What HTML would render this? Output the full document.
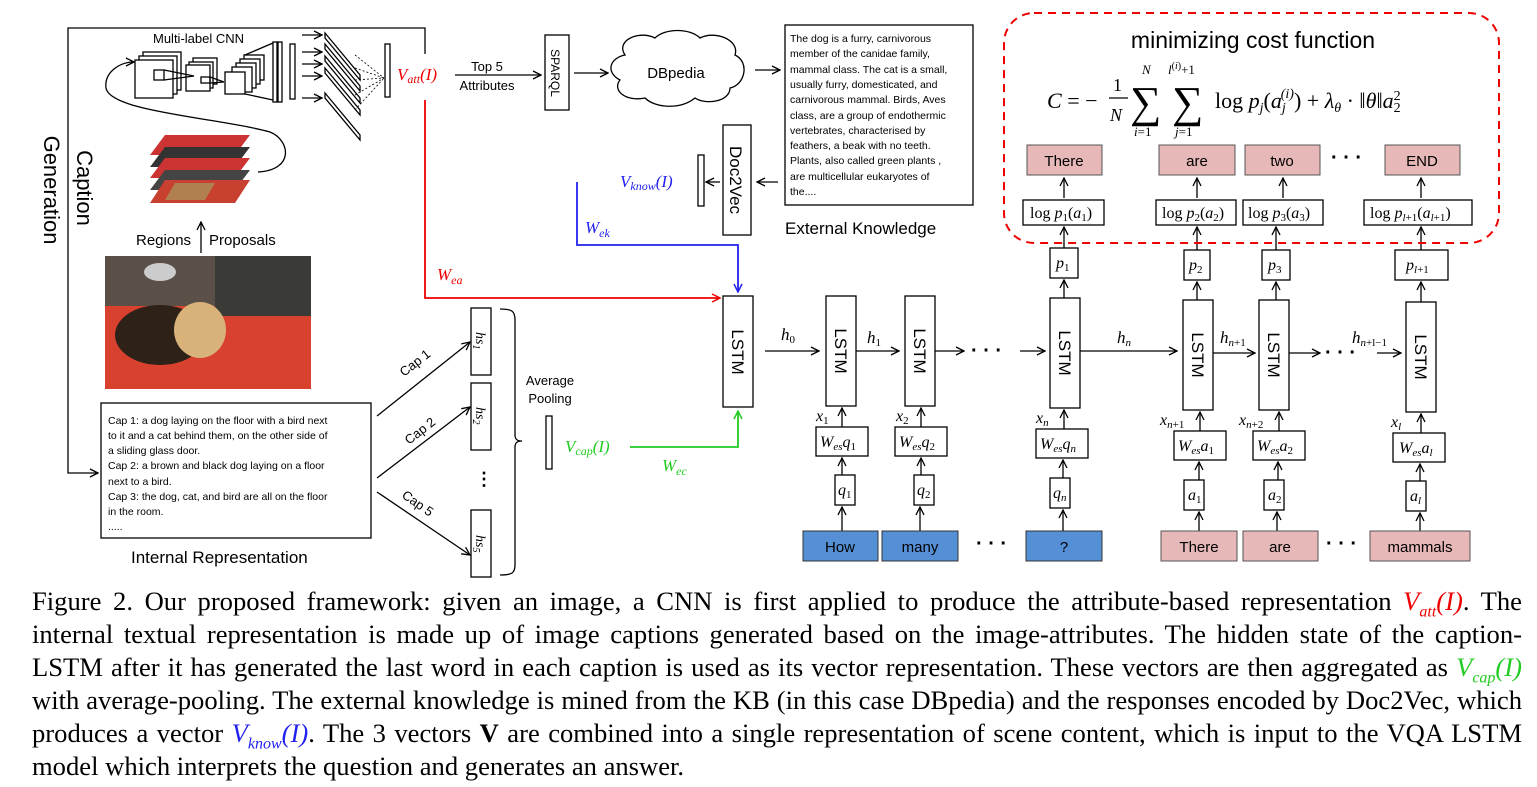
<!DOCTYPE html>
<html><head><meta charset="utf-8"><style>
body{margin:0;background:#fff;width:1537px;height:787px;overflow:hidden;position:relative;font-family:"Liberation Sans",sans-serif}
svg{position:absolute;left:0;top:0}
.cap{position:absolute;left:32px;width:1490px;font-family:"Liberation Serif",serif;font-size:26.6px;line-height:33px;top:585px;color:#000}
.cap div{text-align:justify;text-align-last:justify;white-space:nowrap;height:33px}
.cap div.l{text-align-last:left}
.r{color:#e00;font-style:italic}.g{color:#2c2;font-style:italic}.b{color:#22e;font-style:italic}
</style></head><body>
<svg width="1537" height="787" viewBox="0 0 1537 787" font-family="Liberation Sans, sans-serif">
<defs>
<marker id="a" markerWidth="10" markerHeight="10" refX="9" refY="5" orient="auto" markerUnits="userSpaceOnUse"><path d="M1,1 L9,5 L1,9" fill="none" stroke="#000" stroke-width="1.3"/></marker>
<marker id="ar" markerWidth="10" markerHeight="10" refX="9" refY="5" orient="auto" markerUnits="userSpaceOnUse"><path d="M1,1 L9,5 L1,9" fill="none" stroke="#e00" stroke-width="1.5"/></marker>
<marker id="ab" markerWidth="10" markerHeight="10" refX="9" refY="5" orient="auto" markerUnits="userSpaceOnUse"><path d="M1,1 L9,5 L1,9" fill="none" stroke="#22e" stroke-width="1.5"/></marker>
<marker id="ag" markerWidth="10" markerHeight="10" refX="9" refY="5" orient="auto" markerUnits="userSpaceOnUse"><path d="M1,1 L9,5 L1,9" fill="none" stroke="#2c2" stroke-width="1.5"/></marker>
</defs>
<g stroke="#000" stroke-width="1.3" fill="none">
<path d="M425,54 V28 H68 V473 H98" marker-end="url(#a)"/>
<rect x="143" y="52" width="38" height="38" fill="#fff"/><rect x="139" y="56" width="38" height="38" fill="#fff"/><rect x="135" y="60" width="38" height="38" fill="#fff"/>
<rect x="154" y="70" width="10" height="10"/>
<rect x="193" y="58" width="24" height="26" fill="#fff"/><rect x="189" y="62" width="24" height="26" fill="#fff"/><rect x="186" y="65" width="24" height="26" fill="#fff"/>
<rect x="201" y="77" width="9" height="6"/>
<path d="M164,70 L194,76 M164,80 L194,76 M210,77 L224,82 M210,83 L224,82"/>
<rect x="244" y="55" width="20" height="25" fill="#fff"/><rect x="240" y="59" width="20" height="25" fill="#fff"/><rect x="236" y="63" width="20" height="25" fill="#fff"/><rect x="232" y="67" width="20" height="25" fill="#fff"/><rect x="225" y="72" width="20" height="22" fill="#fff"/>
<path d="M245,55 L273,43 M245,94 L273,100"/>
<rect x="273" y="42" width="4" height="60"/><rect x="278" y="42" width="4" height="60"/>
<rect x="290" y="44" width="5" height="55"/>
<path d="M302,35 H322" marker-end="url(#a)"/><path d="M302,52 H322" marker-end="url(#a)"/><path d="M302,64 H322" marker-end="url(#a)"/><path d="M302,76 H322" marker-end="url(#a)"/><path d="M302,98 H322" marker-end="url(#a)"/>
<path d="M325,33 L360,75 L360,80 L325,38Z M325,44 L360,86 L360,91 L325,49Z M325,56 L360,98 L360,103 L325,61Z M325,68 L360,110 L360,115 L325,73Z M325,93 L360,135 L360,140 L325,98Z" fill="#fff"/>
<path d="M355,55 L384,78 M355,68 L384,78 M355,80 L384,78 M355,95 L384,78 M355,110 L384,78" stroke-dasharray="2,2" stroke-width="0.8"/>
<rect x="385" y="44" width="5" height="53" fill="#fff"/>
<path d="M258,172 C295,170 290,140 270,132 C220,118 110,112 106,88 C104,72 120,62 134,62" marker-end="url(#a)"/>
<path d="M201,253 V222" marker-end="url(#a)"/>
<path d="M455,75 H541" marker-end="url(#a)"/>
<rect x="545" y="35" width="24" height="75"/>
<path d="M574,73 H608" marker-end="url(#a)"/>
<path d="M625,55 C615,40 640,30 655,38 C665,28 690,28 700,38 C715,30 740,40 735,55 C750,62 745,85 730,88 C730,102 705,105 695,98 C680,110 655,108 645,98 C625,102 612,90 620,80 C605,72 610,58 625,55Z"/>
<path d="M755,70 H780" marker-end="url(#a)"/>
<rect x="785" y="25" width="188" height="180"/>
<rect x="723" y="125" width="28" height="110"/>
<path d="M778,182 H757" marker-end="url(#a)"/>
<path d="M720,182 H706" marker-end="url(#a)"/>
<rect x="698" y="155" width="6" height="51"/>
<rect x="101" y="403" width="270" height="135"/>
<path d="M377,416 L470,342" marker-end="url(#a)"/><path d="M377,478 L470,407" marker-end="url(#a)"/><path d="M377,492 L470,555" marker-end="url(#a)"/>
<rect x="471" y="308" width="20" height="67"/><rect x="471" y="383" width="20" height="67"/><rect x="471" y="510" width="20" height="67"/>
<path d="M500,309 C512,309 515,311 515,320 V435 C515,440 518,441 522,441 C518,441 515,442 515,447 V565 C515,573 512,575 500,575"/>
<rect x="546" y="416" width="6" height="53"/>
<rect x="723" y="296" width="30" height="111"/>
<path d="M765,351 H819" marker-end="url(#a)"/>
<rect x="826" y="296" width="30" height="110"/>
<path d="M856,351 H899" marker-end="url(#a)"/>
<rect x="905" y="296" width="30" height="110"/>
<path d="M935,351 H964" marker-end="url(#a)"/>
<path d="M1020,351 H1045" marker-end="url(#a)"/>
<rect x="1050" y="298" width="30" height="110"/>
<path d="M1080,351 H1177" marker-end="url(#a)"/>
<rect x="1183" y="300" width="30" height="110"/>
<path d="M1213,353 H1255" marker-end="url(#a)"/>
<rect x="1259" y="300" width="30" height="110"/>
<path d="M1289,353 H1320" marker-end="url(#a)"/>
<path d="M1377,353 H1401" marker-end="url(#a)"/>
<rect x="1406" y="302" width="30" height="110"/>
<rect x="816" y="427" width="52" height="29"/><rect x="835" y="475" width="20" height="30"/>
<rect x="895" y="427" width="52" height="29"/><rect x="914" y="475" width="20" height="30"/>
<rect x="1036" y="429" width="52" height="29"/><rect x="1050" y="478" width="20" height="30"/>
<rect x="1174" y="431" width="52" height="29"/><rect x="1184" y="480" width="20" height="30"/>
<rect x="1253" y="431" width="52" height="29"/><rect x="1264" y="480" width="20" height="30"/>
<rect x="1393" y="433" width="52" height="29"/><rect x="1406" y="481" width="20" height="30"/>
<path d="M842,427 V408" marker-end="url(#a)"/><path d="M842,475 V458" marker-end="url(#a)"/><path d="M842,531 V507" marker-end="url(#a)"/>
<path d="M921,427 V408" marker-end="url(#a)"/><path d="M921,475 V458" marker-end="url(#a)"/><path d="M920,531 V507" marker-end="url(#a)"/>
<path d="M1064,429 V410" marker-end="url(#a)"/><path d="M1063,478 V460" marker-end="url(#a)"/><path d="M1063,531 V510" marker-end="url(#a)"/>
<path d="M1200,431 V412" marker-end="url(#a)"/><path d="M1199,480 V462" marker-end="url(#a)"/><path d="M1199,531 V512" marker-end="url(#a)"/>
<path d="M1279,431 V412" marker-end="url(#a)"/><path d="M1278,480 V462" marker-end="url(#a)"/><path d="M1277,531 V512" marker-end="url(#a)"/>
<path d="M1421,433 V414" marker-end="url(#a)"/><path d="M1420,481 V464" marker-end="url(#a)"/><path d="M1420,531 V513" marker-end="url(#a)"/>
<rect x="1050" y="248" width="28" height="30"/><rect x="1184" y="250" width="26" height="30"/><rect x="1262" y="250" width="28" height="30"/><rect x="1395" y="250" width="53" height="30"/>
<rect x="1023" y="200" width="81" height="25"/><rect x="1156" y="200" width="80" height="25"/><rect x="1243" y="200" width="80" height="25"/><rect x="1364" y="200" width="108" height="25"/>
<path d="M1064,298 V280" marker-end="url(#a)"/><path d="M1197,300 V282" marker-end="url(#a)"/><path d="M1276,300 V282" marker-end="url(#a)"/><path d="M1421,302 V282" marker-end="url(#a)"/>
<path d="M1064,248 V227" marker-end="url(#a)"/><path d="M1197,250 V227" marker-end="url(#a)"/><path d="M1276,250 V227" marker-end="url(#a)"/><path d="M1421,250 V227" marker-end="url(#a)"/>
<path d="M1064,198 V178" marker-end="url(#a)"/><path d="M1197,198 V178" marker-end="url(#a)"/><path d="M1283,198 V178" marker-end="url(#a)"/><path d="M1421,198 V178" marker-end="url(#a)"/>
</g>
<path d="M425,100 V298 H720" fill="none" stroke="#e00" stroke-width="1.8" marker-end="url(#ar)"/>
<path d="M577,182 V245 H738 V292" fill="none" stroke="#22e" stroke-width="1.8" marker-end="url(#ab)"/>
<path d="M630,447 H738 V411" fill="none" stroke="#2c2" stroke-width="1.8" marker-end="url(#ag)"/>
<rect x="1004" y="13" width="495" height="230" rx="30" fill="none" stroke="#e00" stroke-width="2" stroke-dasharray="8,6"/>
<g>
<polygon points="165,135 250,135 235,155 150,155" fill="#c33"/>
<polygon points="165,147 250,147 235,167 150,167" fill="#333"/>
<polygon points="165,158 250,158 235,178 150,178" fill="#c33"/>
<polygon points="165,170 250,170 235,190 150,190" fill="#444"/>
<polygon points="165,180 250,180 235,203 150,203" fill="#c8402f"/>
<polygon points="175,183 215,183 205,200 165,200" fill="#b08050"/>
</g>
<rect x="105" y="256" width="206" height="133" fill="#d8412e"/>
<rect x="105" y="256" width="206" height="50" fill="#5a5048"/>
<rect x="215" y="256" width="96" height="60" fill="#3a3a36"/>
<ellipse cx="160" cy="335" rx="45" ry="30" fill="#2e2218"/>
<ellipse cx="200" cy="330" rx="26" ry="28" fill="#d9b27a"/>
<ellipse cx="160" cy="272" rx="16" ry="9" fill="#ccc"/>
<g font-size="14" fill="#000">
<text x="153" y="43" font-size="13">Multi-label CNN</text>
<text x="136" y="245" font-size="15">Regions</text><text x="209" y="245" font-size="15">Proposals</text>
<text x="487" y="71" text-anchor="middle" font-size="13">Top 5</text>
<text x="487" y="90" text-anchor="middle" font-size="13">Attributes</text>
<text x="676" y="78" text-anchor="middle" font-size="15">DBpedia</text>
<text transform="translate(551,73) rotate(90)" text-anchor="middle" font-size="12">SPARQL</text>
<text transform="translate(730,180) rotate(90)" text-anchor="middle" font-size="17">Doc2Vec</text>
<text transform="translate(77,188) rotate(90)" text-anchor="middle" font-size="22">Caption</text>
<text transform="translate(44,190) rotate(90)" text-anchor="middle" font-size="22">Generation</text>
<text x="785" y="234" font-size="17">External Knowledge</text>
<text x="131" y="563" font-size="17">Internal Representation</text>
<text x="550" y="385" text-anchor="middle" font-size="13">Average</text>
<text x="550" y="403" text-anchor="middle" font-size="13">Pooling</text>
<g font-size="10.5">
<text x="790" y="42">The dog is a furry, carnivorous</text>
<text x="790" y="57">member of the canidae family,</text>
<text x="790" y="73">mammal class. The cat is a small,</text>
<text x="790" y="88">usually furry, domesticated, and</text>
<text x="790" y="103">carnivorous mammal. Birds, Aves</text>
<text x="790" y="119">class, are a group of endothermic</text>
<text x="790" y="134">vertebrates, characterised by</text>
<text x="790" y="149">feathers, a beak with no teeth.</text>
<text x="790" y="164">Plants, also called green plants ,</text>
<text x="790" y="180">are multicellular eukaryotes of</text>
<text x="790" y="195">the....</text>
<text x="108" y="424">Cap 1: a dog laying on the floor with a bird next</text>
<text x="108" y="439">to it and a cat behind them, on the other side of</text>
<text x="108" y="454">a sliding glass door.</text>
<text x="108" y="469">Cap 2: a brown and black dog laying on a floor</text>
<text x="108" y="485">next to a bird.</text>
<text x="108" y="500">Cap 3: the dog, cat, and bird are all on the floor</text>
<text x="108" y="515">in the room.</text>
<text x="108" y="530">.....</text>
</g>
<text transform="translate(404,377) rotate(-38)" font-size="13">Cap 1</text>
<text transform="translate(409,445) rotate(-38)" font-size="13">Cap 2</text>
<text transform="translate(401,497) rotate(35)" font-size="13">Cap 5</text>
<text x="475" y="485" font-size="18" font-weight="bold">⋮</text>
<g font-family="Liberation Serif, serif" font-style="italic" font-size="14">
<text transform="translate(476,332) rotate(90)">hs<tspan font-size="10" dy="3">1</tspan></text>
<text transform="translate(476,407) rotate(90)">hs<tspan font-size="10" dy="3">2</tspan></text>
<text transform="translate(476,535) rotate(90)">hs<tspan font-size="10" dy="3">5</tspan></text>
</g>
<g font-size="17" text-anchor="middle">
<text transform="translate(732,352) rotate(90)">LSTM</text>
<text transform="translate(835,351) rotate(90)">LSTM</text>
<text transform="translate(914,351) rotate(90)">LSTM</text>
<text transform="translate(1059,353) rotate(90)">LSTM</text>
<text transform="translate(1192,355) rotate(90)">LSTM</text>
<text transform="translate(1268,355) rotate(90)">LSTM</text>
<text transform="translate(1415,357) rotate(90)">LSTM</text>
</g>
</g>
<g font-family="Liberation Serif, serif" font-style="italic" font-size="17">
<text x="397" y="80" fill="#e00">V<tspan font-size="12" dy="3">att</tspan><tspan dy="-3">(I)</tspan></text>
<text x="437" y="280" fill="#e00">W<tspan font-size="12" dy="4">ea</tspan></text>
<text x="620" y="187" fill="#22e">V<tspan font-size="12" dy="3">know</tspan><tspan dy="-3">(I)</tspan></text>
<text x="585" y="233" fill="#22e">W<tspan font-size="12" dy="4">ek</tspan></text>
<text x="565" y="452" fill="#2c2">V<tspan font-size="12" dy="3">cap</tspan><tspan dy="-3">(I)</tspan></text>
<text x="662" y="471" fill="#2c2">W<tspan font-size="12" dy="4">ec</tspan></text>
<text x="781" y="340">h<tspan font-size="11" dy="3" font-style="normal">0</tspan></text>
<text x="867" y="343">h<tspan font-size="11" dy="3" font-style="normal">1</tspan></text>
<text x="1117" y="343">h<tspan font-size="11" dy="3">n</tspan></text>
<text x="1220" y="343">h<tspan font-size="11" dy="3">n</tspan><tspan font-size="11" font-style="normal">+1</tspan></text>
<text x="1352" y="343">h<tspan font-size="11" dy="3">n</tspan><tspan font-size="11" font-style="normal">+l−1</tspan></text>
<g font-size="16">
<text x="816" y="421">x<tspan font-size="11" dy="3" font-style="normal">1</tspan></text>
<text x="896" y="421">x<tspan font-size="11" dy="3" font-style="normal">2</tspan></text>
<text x="1036" y="423">x<tspan font-size="11" dy="3">n</tspan></text>
<text x="1160" y="425">x<tspan font-size="11" dy="3">n</tspan><tspan font-size="11" font-style="normal">+1</tspan></text>
<text x="1239" y="425">x<tspan font-size="11" dy="3">n</tspan><tspan font-size="11" font-style="normal">+2</tspan></text>
<text x="1391" y="427">x<tspan font-size="11" dy="3">l</tspan></text>
<text x="820" y="447">W<tspan font-size="11" dy="3">es</tspan><tspan dy="-3">q</tspan><tspan font-size="11" dy="3" font-style="normal">1</tspan></text>
<text x="899" y="447">W<tspan font-size="11" dy="3">es</tspan><tspan dy="-3">q</tspan><tspan font-size="11" dy="3" font-style="normal">2</tspan></text>
<text x="1040" y="449">W<tspan font-size="11" dy="3">es</tspan><tspan dy="-3">q</tspan><tspan font-size="11" dy="3">n</tspan></text>
<text x="1178" y="451">W<tspan font-size="11" dy="3">es</tspan><tspan dy="-3">a</tspan><tspan font-size="11" dy="3" font-style="normal">1</tspan></text>
<text x="1257" y="451">W<tspan font-size="11" dy="3">es</tspan><tspan dy="-3">a</tspan><tspan font-size="11" dy="3" font-style="normal">2</tspan></text>
<text x="1399" y="453">W<tspan font-size="11" dy="3">es</tspan><tspan dy="-3">a</tspan><tspan font-size="11" dy="3">l</tspan></text>
<text x="838" y="495">q<tspan font-size="11" dy="3" font-style="normal">1</tspan></text>
<text x="917" y="495">q<tspan font-size="11" dy="3" font-style="normal">2</tspan></text>
<text x="1053" y="498">q<tspan font-size="11" dy="3">n</tspan></text>
<text x="1188" y="500">a<tspan font-size="11" dy="3" font-style="normal">1</tspan></text>
<text x="1268" y="500">a<tspan font-size="11" dy="3" font-style="normal">2</tspan></text>
<text x="1410" y="501">a<tspan font-size="11" dy="3">l</tspan></text>
<text x="1056" y="268">p<tspan font-size="11" dy="3" font-style="normal">1</tspan></text>
<text x="1189" y="270">p<tspan font-size="11" dy="3" font-style="normal">2</tspan></text>
<text x="1268" y="270">p<tspan font-size="11" dy="3" font-style="normal">3</tspan></text>
<text x="1406" y="270">p<tspan font-size="11" dy="3">l</tspan><tspan font-size="11" font-style="normal">+1</tspan></text>
<text x="1030" y="218"><tspan font-style="normal">log</tspan> p<tspan font-size="11" dy="3" font-style="normal">1</tspan><tspan dy="-3" font-style="normal">(</tspan>a<tspan font-size="11" dy="3" font-style="normal">1</tspan><tspan dy="-3" font-style="normal">)</tspan></text>
<text x="1162" y="218"><tspan font-style="normal">log</tspan> p<tspan font-size="11" dy="3" font-style="normal">2</tspan><tspan dy="-3" font-style="normal">(</tspan>a<tspan font-size="11" dy="3" font-style="normal">2</tspan><tspan dy="-3" font-style="normal">)</tspan></text>
<text x="1248" y="218"><tspan font-style="normal">log</tspan> p<tspan font-size="11" dy="3" font-style="normal">3</tspan><tspan dy="-3" font-style="normal">(</tspan>a<tspan font-size="11" dy="3" font-style="normal">3</tspan><tspan dy="-3" font-style="normal">)</tspan></text>
<text x="1370" y="218"><tspan font-style="normal">log</tspan> p<tspan font-size="11" dy="3">l</tspan><tspan font-size="11" font-style="normal">+1</tspan><tspan dy="-3" font-style="normal">(</tspan>a<tspan font-size="11" dy="3">l</tspan><tspan font-size="11" font-style="normal">+1</tspan><tspan dy="-3" font-style="normal">)</tspan></text>
</g>
<g font-size="22">
<text x="1047" y="108">C <tspan font-style="normal">= −</tspan></text>
<text x="1113" y="91" font-style="normal" font-size="18">1</text>
<line x1="1109" y1="98" x2="1128" y2="98" stroke="#000" stroke-width="1.2"/>
<text x="1110" y="121" font-size="18">N</text>
<text x="1130" y="117" font-style="normal" font-size="44">∑</text>
<text x="1142" y="74" font-size="13">N</text>
<text x="1134" y="136" font-size="13">i<tspan font-style="normal">=1</tspan></text>
<text x="1172" y="117" font-style="normal" font-size="44">∑</text>
<text x="1168" y="74" font-size="13">l<tspan font-size="10" dy="-5" font-style="normal">(</tspan><tspan font-size="10">i</tspan><tspan font-size="10" font-style="normal">)</tspan><tspan dy="5" font-style="normal">+1</tspan></text>
<text x="1175" y="136" font-size="13">j<tspan font-style="normal">=1</tspan></text>
<text x="1215" y="108"><tspan font-style="normal">log</tspan> p<tspan font-size="14" dy="4">j</tspan><tspan dy="-4" font-style="normal">(</tspan>a<tspan font-size="14" dy="4">j</tspan><tspan font-size="14" dy="-14" dx="-5">(i)</tspan><tspan dy="10" font-style="normal">) + </tspan>λ<tspan font-size="14" dy="4">θ</tspan><tspan dy="-4" font-style="normal"> · ‖</tspan>θ<tspan font-style="normal">‖</tspan>a<tspan font-size="14" dy="4" font-style="normal">2</tspan><tspan font-size="14" dx="-7" dy="-12" font-style="normal">2</tspan></text>
</g>
</g>
<text x="1253" y="48" text-anchor="middle" font-size="23">minimizing cost function</text>
<g font-size="15" text-anchor="middle">
<rect x="803" y="531" width="75" height="30" fill="#5590d6" stroke="#333"/><text x="840" y="552">How</text>
<rect x="882" y="531" width="76" height="30" fill="#5590d6" stroke="#333"/><text x="920" y="552">many</text>
<rect x="1026" y="531" width="76" height="30" fill="#5590d6" stroke="#333"/><text x="1064" y="552">?</text>
<rect x="1161" y="531" width="76" height="30" fill="#e6b8b7" stroke="#555"/><text x="1199" y="552">There</text>
<rect x="1243" y="531" width="75" height="30" fill="#e6b8b7" stroke="#555"/><text x="1280" y="552">are</text>
<rect x="1370" y="531" width="100" height="30" fill="#e6b8b7" stroke="#555"/><text x="1420" y="552">mammals</text>
<rect x="1027" y="145" width="75" height="30" fill="#e6b8b7" stroke="#555"/><text x="1064" y="166">There</text>
<rect x="1159" y="145" width="76" height="30" fill="#e6b8b7" stroke="#555"/><text x="1197" y="166">are</text>
<rect x="1245" y="145" width="75" height="30" fill="#e6b8b7" stroke="#555"/><text x="1282" y="166">two</text>
<rect x="1385" y="145" width="75" height="30" fill="#e6b8b7" stroke="#555"/><text x="1422" y="166">END</text>
</g>
<g font-size="20" font-weight="bold">
<text x="976" y="550">· · ·</text><text x="1326" y="550">· · ·</text>
<text x="971" y="357">· · ·</text><text x="1325" y="359">· · ·</text>
<text x="1331" y="164">· · ·</text>
</g>
</svg>
<div class="cap">
<div>Figure 2. Our proposed framework: given an image, a CNN is first applied to produce the attribute-based representation <span class="r">V<sub style="font-size:16px">att</sub>(I)</span>. The</div>
<div>internal textual representation is made up of image captions generated based on the image-attributes. The hidden state of the caption-</div>
<div>LSTM after it has generated the last word in each caption is used as its vector representation. These vectors are then aggregated as <span class="g">V<sub style="font-size:16px">cap</sub>(I)</span></div>
<div>with average-pooling. The external knowledge is mined from the KB (in this case DBpedia) and the responses encoded by Doc2Vec, which</div>
<div>produces a vector <span class="b">V<sub style="font-size:16px">know</sub>(I)</span>. The 3 vectors <b>V</b> are combined into a single representation of scene content, which is input to the VQA LSTM</div>
<div class="l">model which interprets the question and generates an answer.</div>
</div>
</body></html>
